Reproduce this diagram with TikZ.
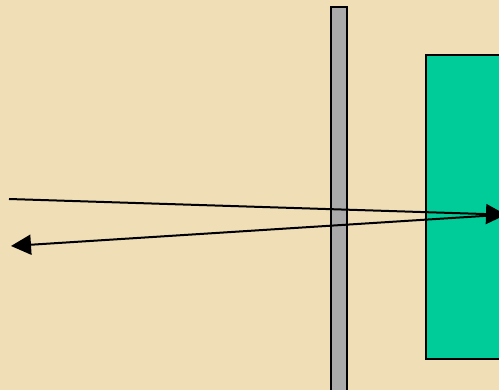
\documentclass[tikz,border=0pt]{standalone}
\usetikzlibrary{arrows.meta}
\definecolor{parch}{RGB}{240,222,182}
\definecolor{mirrorgreen}{RGB}{0,204,153}
\definecolor{bargray}{RGB}{170,170,170}
\begin{document}
\begin{tikzpicture}[x=1pt,y=-1pt,
  ray/.style={line width=2pt,-{Triangle[length=20pt,width=20pt]}},
  panel/.style={draw=black,line width=2pt,inner sep=0pt,outer sep=0pt},
]
\useasboundingbox (0,0) rectangle (499,390);
\clip (0,0) rectangle (499,390);
\fill[parch] (0,0) rectangle (499,390);
\node[panel,fill=bargray,minimum width=16pt,minimum height=395pt,anchor=north west] (glass) at (330.5,7) {};
\node[panel,fill=mirrorgreen,minimum width=100pt,minimum height=304pt,anchor=north west] (target) at (426,55) {};
\coordinate (src) at (9,199);
\coordinate (hit) at (506,214.7);
\coordinate (back) at (499,215);
\coordinate (dst) at (11,246);
\draw[ray] (src) -- (hit);
\draw[ray] (back) -- (dst);
\end{tikzpicture}
\end{document}
